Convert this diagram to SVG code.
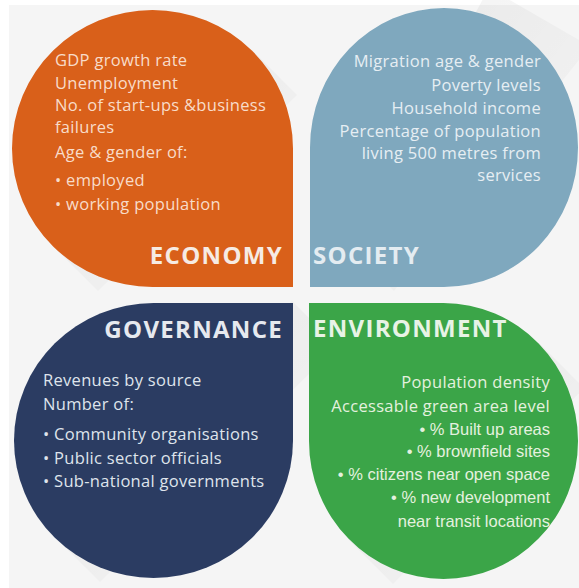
<svg xmlns="http://www.w3.org/2000/svg" width="579" height="588" viewBox="0 0 579 588">
  <defs>
    <linearGradient id="shade" x1="0" y1="0" x2="1" y2="1">
      <stop offset="0" stop-color="#000" stop-opacity="0.06"/>
      <stop offset="1" stop-color="#000" stop-opacity="0"/>
    </linearGradient>
    <style>
      .body { font-family: "Open Sans", "Liberation Sans", sans-serif; font-size: 16.5px; letter-spacing: 0.3px; }
      .plain { font-family: "Liberation Sans", Arial, sans-serif; font-size: 16.5px; }
      .title { font-family: "Open Sans", "Liberation Sans", sans-serif; font-size: 24px; font-weight: 700; letter-spacing: 1.3px; }
      .shadow { fill: url(#shade); }
    </style>
  </defs>

  <!-- page background -->
  <rect x="0" y="0" width="579" height="588" fill="#ffffff"/>
  <rect x="9" y="5" width="570" height="583" fill="#f5f5f5"/>

  <!-- long diagonal shadows behind each leaf -->
  <g id="shadows">
    <polygon class="shadow" points="53,246 98,291 297,95 252,50"/>
    <polygon class="shadow" points="349,246 394,291 579,60 579,40 489,-12"/>
    <polygon class="shadow" points="55,537 100,582 337,346 292,301"/>
    <polygon class="shadow" points="348,539 393,584 584,388 539,343"/>
  </g>

  <g id="economy">
    <path d="M293,287 H152.5 A140.5,138.5 0 0 1 12,148.5 A140.5,138.5 0 0 1 152.5,10 A140.5,138.5 0 0 1 293,148.5 Z" fill="#d9601a"/>
    <g class="body" fill="#f8dcc9">
      <text x="55" y="66">GDP growth rate</text>
      <text x="55" y="89">Unemployment</text>
      <text x="55" y="111">No. of start-ups &amp;business</text>
      <text x="55" y="133">failures</text>
      <text x="55" y="158">Age &amp; gender of:</text>
      <text x="55" y="186">• employed</text>
      <text x="55" y="210">• working population</text>
    </g>
    <text class="title" x="283" y="264" text-anchor="end" fill="#f6ebe4">ECONOMY</text>
  </g>

  <g id="society">
    <path d="M310,287 V147.5 A134,139.5 0 0 1 444,8 A134,139.5 0 0 1 578,147.5 A134,139.5 0 0 1 444,287 Z" fill="#7fa8be"/>
    <g class="body" fill="#e6eef3" text-anchor="end">
      <text x="541" y="67">Migration age &amp; gender</text>
      <text x="541" y="91">Poverty levels</text>
      <text x="541" y="114">Household income</text>
      <text x="541" y="137">Percentage of population</text>
      <text x="541" y="159">living 500 metres from</text>
      <text x="541" y="181">services</text>
    </g>
    <text class="title" x="313" y="264" fill="#e4ecf1">SOCIETY</text>
  </g>

  <g id="governance">
    <path d="M293,303 V440.5 A139.5,137.5 0 0 1 153.5,578 A139.5,137.5 0 0 1 14,440.5 A139.5,137.5 0 0 1 153.5,303 Z" fill="#2b3c62"/>
    <text class="title" x="283" y="338" text-anchor="end" fill="#e6e9ef">GOVERNANCE</text>
    <g class="body" fill="#dfe4ec">
      <text x="43" y="386">Revenues by source</text>
      <text x="43" y="410">Number of:</text>
      <text x="43" y="440">• Community organisations</text>
      <text x="43" y="464">• Public sector officials</text>
      <text x="43" y="487">• Sub-national governments</text>
    </g>
  </g>

  <g id="environment">
    <path d="M309,303 H443.5 A134.5,138 0 0 1 578,441 A134.5,138 0 0 1 443.5,579 A134.5,138 0 0 1 309,441 Z" fill="#3ba548"/>
    <text class="title" x="313" y="337" fill="#e8f3e6">ENVIRONMENT</text>
    <g fill="#e4f1df" text-anchor="end">
      <text class="body" x="550" y="388">Population density</text>
      <text class="body" x="550" y="412">Accessable green area level</text>
      <text class="plain" x="550" y="435">•  % Built up areas</text>
      <text class="plain" x="550" y="457">• % brownfield sites</text>
      <text class="plain" x="550" y="480">• % citizens near open space</text>
      <text class="plain" x="550" y="503">• % new development</text>
      <text class="plain" x="550" y="527">near transit locations</text>
    </g>
  </g>
</svg>
